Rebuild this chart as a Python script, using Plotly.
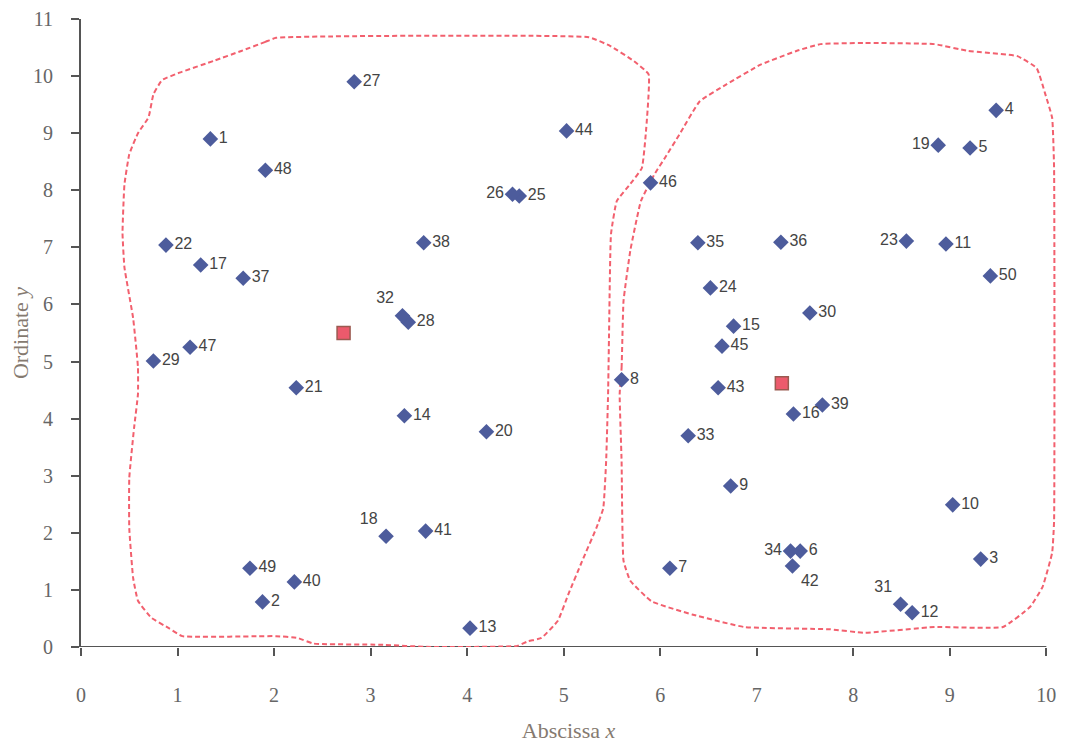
import plotly.graph_objects as go

# ---- data ----
point_ids = list(range(1, 51))
xs = [1.34, 1.88, 9.32, 9.48, 9.21, 7.45, 6.10, 5.60, 6.73, 9.03,
      8.96, 8.61, 4.03, 3.35, 6.76, 7.38, 1.24, 3.16, 8.88, 4.20,
      2.23, 0.88, 8.55, 6.52, 4.54, 4.47, 2.83, 3.39, 0.75, 7.55,
      8.49, 3.33, 6.29, 7.35, 6.39, 7.25, 1.68, 3.55, 7.68, 2.21,
      3.57, 7.37, 6.60, 5.03, 6.64, 5.90, 1.13, 1.91, 1.75, 9.42]
ys = [8.90, 0.79, 1.54, 9.40, 8.74, 1.68, 1.38, 4.68, 2.82, 2.49,
      7.06, 0.60, 0.33, 4.05, 5.62, 4.08, 6.69, 1.94, 8.79, 3.77,
      4.54, 7.04, 7.11, 6.29, 7.90, 7.93, 9.90, 5.69, 5.01, 5.85,
      0.75, 5.80, 3.70, 1.68, 7.08, 7.09, 6.46, 7.08, 4.24, 1.14,
      2.03, 1.42, 4.54, 9.04, 5.27, 8.13, 5.25, 8.35, 1.38, 6.50]
label_pos = {19: "middle left", 23: "middle left", 26: "middle left",
             32: "top left", 18: "top left", 34: "middle left", 31: "top left",
             42: "bottom right"}

centroid_x = [2.72, 7.26]
centroid_y = [5.50, 4.62]

left_bx = [2.02, 1.91, 1.66, 1.38, 1.02, 0.84, 0.75, 0.70, 0.59, 0.50, 0.45, 0.43,
           0.45, 0.54, 0.59, 0.59, 0.55, 0.50, 0.50, 0.54, 0.59, 0.73, 0.91, 1.05,
           2.02, 2.24, 2.41, 3.09, 3.63, 4.52, 4.63, 4.77, 4.94, 5.05, 5.19, 5.34,
           5.41, 5.44, 5.46, 5.47, 5.49, 5.55, 5.69, 5.81, 5.85, 5.88, 5.73, 5.48,
           5.26, 2.02]
left_by = [10.67, 10.60, 10.44, 10.27, 10.06, 9.93, 9.68, 9.28, 9.00, 8.63, 8.10, 7.25,
           6.65, 5.76, 4.90, 4.43, 3.84, 2.96, 2.08, 1.21, 0.81, 0.51, 0.33, 0.19,
           0.19, 0.16, 0.06, 0.04, 0.00, 0.02, 0.10, 0.16, 0.46, 0.93, 1.50, 2.09,
           2.43, 3.26, 4.43, 5.48, 7.23, 7.81, 8.11, 8.39, 8.98, 10.03, 10.26, 10.53,
           10.68, 10.67]

right_bx = [5.58, 5.60, 5.62, 5.69, 5.80, 5.94, 6.05, 6.20, 6.41, 6.69, 7.04, 7.41,
            7.66, 8.12, 8.84, 9.19, 9.70, 9.90, 9.99, 10.06, 10.08, 10.08, 10.06,
            9.96, 9.83, 9.55, 8.84, 8.12, 7.76, 6.87, 6.33, 5.91, 5.69, 5.62, 5.60, 5.58]
right_by = [4.43, 4.89, 6.06, 6.94, 7.81, 8.28, 8.57, 8.98, 9.56, 9.86, 10.20, 10.44,
            10.56, 10.58, 10.56, 10.44, 10.35, 10.14, 9.68, 9.27, 8.40, 2.20, 1.65,
            1.05, 0.70, 0.35, 0.35, 0.25, 0.31, 0.35, 0.57, 0.80, 1.16, 1.51, 3.26, 4.43]

x_ticks = list(range(0, 11))
y_ticks = list(range(0, 12))

fig = go.Figure()

dash_line = dict(color="#f2606e", width=2, dash="5px,3px", shape="spline", smoothing=0.35)
fig.add_trace(go.Scatter(x=left_bx, y=left_by, mode="lines", line=dash_line,
                         hoverinfo="skip", showlegend=False))
fig.add_trace(go.Scatter(x=right_bx, y=right_by, mode="lines", line=dash_line,
                         hoverinfo="skip", showlegend=False))

fig.add_trace(go.Scatter(
    x=xs, y=ys, mode="markers+text",
    text=[str(i) for i in point_ids],
    textposition=[label_pos.get(i, "middle right") for i in point_ids],
    textfont=dict(family="Liberation Sans", size=16, color="#444444"),
    marker=dict(symbol="diamond", size=12, color="#4d5c9c"),
    cliponaxis=False, showlegend=False))

fig.add_trace(go.Scatter(
    x=centroid_x, y=centroid_y, mode="markers",
    marker=dict(symbol="square", size=13, color="#ec5a6c",
                line=dict(color="#9a5a50", width=1.5)),
    showlegend=False))

# x axis baseline drawn only from 0 to 10
fig.add_shape(type="line", xref="x", yref="y", x0=x_ticks[0], x1=x_ticks[-1], y0=0, y1=0,
              line=dict(color="#555555", width=2), layer="below")

fig.update_layout(
    width=1049, height=735,
    margin=dict(l=73, r=1, t=11, b=96),
    plot_bgcolor="white", paper_bgcolor="white",
    xaxis=dict(range=[0, 10.1], tickvals=x_ticks, showgrid=False, zeroline=False,
               automargin=False,
               showline=False, ticks="outside", ticklen=8, tickwidth=1.5, tickcolor="#555555",
               ticklabelstandoff=22,
               tickfont=dict(family="Liberation Serif", size=20, color="#666666"),
               title=dict(text="Abscissa <i>x</i>", standoff=22,
                          font=dict(family="Liberation Serif", size=22, color="#857a70"))),
    yaxis=dict(range=[0, 11], tickvals=y_ticks, showgrid=False, zeroline=False,
               automargin=False,
               showline=True, linecolor="#555555", linewidth=2,
               ticks="outside", ticklen=8, tickwidth=1.5, tickcolor="#555555",
               ticklabelstandoff=14,
               tickfont=dict(family="Liberation Serif", size=20, color="#666666"),
               title=dict(text="Ordinate <i>y</i>", standoff=12,
                          font=dict(family="Liberation Serif", size=22, color="#857a70"))),
)

fig.write_html("out.html")
